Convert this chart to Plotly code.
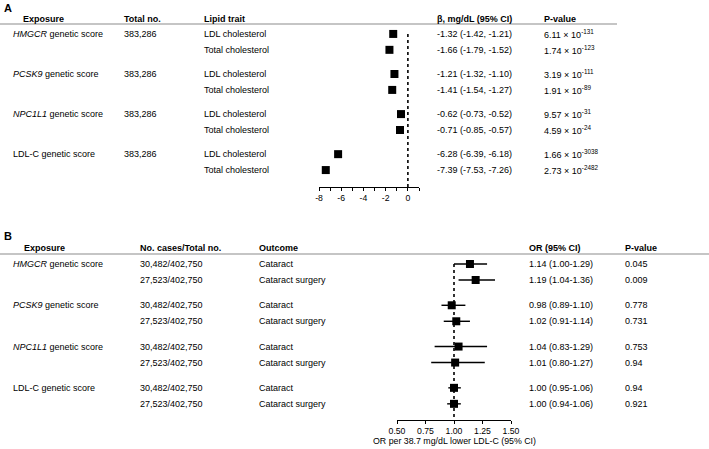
import plotly.graph_objects as go

W, H = 709, 449
FONT = "Liberation Sans, Arial, sans-serif"

# ---- panel A data ----
exposures = ["<i>HMGCR</i> genetic score", "<i>PCSK9</i> genetic score",
             "<i>NPC1L1</i> genetic score", "LDL-C genetic score"]
total_no = ["383,286", "383,286", "383,286", "383,286"]
lipid_traits = ["LDL cholesterol", "Total cholesterol"]
beta = [-1.32, -1.66, -1.21, -1.41, -0.62, -0.71, -6.28, -7.39]
beta_lo = [-1.42, -1.79, -1.32, -1.54, -0.73, -0.85, -6.39, -7.53]
beta_hi = [-1.21, -1.52, -1.10, -1.27, -0.52, -0.57, -6.18, -7.26]
p_a = ["6.11 × 10<sup>-131</sup>", "1.74 × 10<sup>-123</sup>",
       "3.19 × 10<sup>-111</sup>", "1.91 × 10<sup>-89</sup>",
       "9.57 × 10<sup>-31</sup>", "4.59 × 10<sup>-24</sup>",
       "1.66 × 10<sup>-3038</sup>", "2.73 × 10<sup>-2482</sup>"]
a_ticks = [-8, -6, -4, -2, 0]
a_ticktext = ["-8", "-6", "-4", "-2", "0"]

# ---- panel B data ----
cases = ["30,482/402,750", "27,523/402,750"]
outcomes = ["Cataract", "Cataract surgery"]
odds = [1.14, 1.19, 0.98, 1.02, 1.04, 1.01, 1.00, 1.00]
odds_lo = [1.00, 1.04, 0.89, 0.91, 0.83, 0.80, 0.95, 0.94]
odds_hi = [1.29, 1.36, 1.10, 1.14, 1.29, 1.27, 1.06, 1.06]
p_b = ["0.045", "0.009", "0.778", "0.731", "0.753", "0.94", "0.94", "0.921"]
b_ticks = [0.5, 0.75, 1.0, 1.25, 1.5]


def px_x(p):
    return p / W


def px_y(p):
    return 1 - p / H


def row_pos(gstep):
    return [g * gstep + i for g in range(4) for i in range(2)]


ya = row_pos(2.52)
yb = row_pos(2.58)

fig = go.Figure()

# panel A markers
fig.add_trace(go.Scatter(
    x=beta, y=ya, mode="markers", xaxis="x", yaxis="y",
    marker=dict(symbol="square", size=8, color="black"),
    error_x=dict(type="data", symmetric=False,
                 array=[h - b for h, b in zip(beta_hi, beta)],
                 arrayminus=[b - l for b, l in zip(beta, beta_lo)],
                 color="black", thickness=1.3, width=0),
    showlegend=False, hoverinfo="skip"))
fig.add_trace(go.Scatter(
    x=[0, 0], y=[ya[0], 9.625], mode="lines", xaxis="x", yaxis="y",
    line=dict(color="black", width=1.6, dash="dot"),
    showlegend=False, hoverinfo="skip"))

# panel B markers
fig.add_trace(go.Scatter(
    x=[1, 1], y=[yb[0], 9.75], mode="lines", xaxis="x2", yaxis="y2",
    line=dict(color="black", width=1.6, dash="dot"),
    showlegend=False, hoverinfo="skip"))
fig.add_trace(go.Scatter(
    x=odds, y=yb, mode="markers", xaxis="x2", yaxis="y2",
    marker=dict(symbol="square", size=8, color="black"),
    error_x=dict(type="data", symmetric=False,
                 array=[h - o for h, o in zip(odds_hi, odds)],
                 arrayminus=[o - l for o, l in zip(odds, odds_lo)],
                 color="black", thickness=1.4, width=0),
    showlegend=False, hoverinfo="skip"))

axis_common = dict(showline=True, linecolor="black", linewidth=1,
                   ticks="outside", ticklen=3, tickwidth=1, tickcolor="black",
                   showgrid=False, zeroline=False, automargin=False,
                   tickfont=dict(family=FONT, size=8.7, color="black"))

fig.update_layout(
    width=W, height=H,
    margin=dict(l=0, r=0, t=0, b=0, pad=0, autoexpand=False),
    paper_bgcolor="white", plot_bgcolor="white",
    xaxis=dict(domain=[px_x(319), px_x(419)], range=[-8, 1], anchor="y",
               tickvals=a_ticks, ticktext=a_ticktext,
               minor=dict(tickvals=[-7, -5, -3, -1, 1], ticks="outside",
                          ticklen=2.5, tickcolor="black"),
               **axis_common),
    yaxis=dict(domain=[px_y(187), px_y(24)], range=[9.625, -0.625],
               visible=False, fixedrange=True),
    xaxis2=dict(domain=[px_x(397), px_x(511)], range=[0.5, 1.5], anchor="y2",
                tickvals=b_ticks, tickformat=".2f",
                **axis_common),
    yaxis2=dict(domain=[px_y(420), px_y(254)], range=[9.75, -0.625],
                visible=False, fixedrange=True),
)

# header rules
fig.add_shape(type="line", xref="paper", yref="paper",
              x0=0, x1=px_x(617), y0=px_y(24), y1=px_y(24),
              line=dict(color="#8c8c8c", width=1.2))
fig.add_shape(type="line", xref="paper", yref="paper",
              x0=0, x1=1, y0=px_y(254), y1=px_y(254),
              line=dict(color="#8c8c8c", width=1.2))


def txt(x, y, s, yref="paper", bold=False, size=9, anchor="left"):
    if bold:
        s = "<b>" + s + "</b>"
    fig.add_annotation(x=x, y=y, xref="paper", yref=yref, text=s,
                       showarrow=False, xanchor=anchor, yanchor="middle",
                       borderpad=0,
                       font=dict(family=FONT, size=size, color="black"))


# panel labels
txt(px_x(3), px_y(8), "A", bold=True, size=11)
txt(px_x(3), px_y(236), "B", bold=True, size=11)

# panel A header
for xp, s in [(22, "Exposure"), (123, "Total no."), (203, "Lipid trait"),
              (436, "β, mg/dL (95% CI)"), (543, "P-value")]:
    txt(px_x(xp), px_y(19), s, bold=True)

# panel A rows
for g in range(4):
    txt(px_x(12), ya[2 * g], exposures[g], yref="y")
    txt(px_x(123), ya[2 * g], total_no[g], yref="y")
for k in range(8):
    txt(px_x(203), ya[k], lipid_traits[k % 2], yref="y")
    txt(px_x(436), ya[k], f"{beta[k]:.2f} ({beta_lo[k]:.2f}, {beta_hi[k]:.2f})", yref="y")
    txt(px_x(543), ya[k], p_a[k], yref="y")

# panel B header
for xp, s in [(23, "Exposure"), (139, "No. cases/Total no."), (258, "Outcome"),
              (528, "OR (95% CI)"), (624, "P-value")]:
    txt(px_x(xp), px_y(248), s, bold=True)

# panel B rows
for g in range(4):
    txt(px_x(12), yb[2 * g], exposures[g], yref="y2")
for k in range(8):
    txt(px_x(139), yb[k], cases[k % 2], yref="y2")
    txt(px_x(258), yb[k], outcomes[k % 2], yref="y2")
    txt(px_x(528), yb[k], f"{odds[k]:.2f} ({odds_lo[k]:.2f}-{odds_hi[k]:.2f})", yref="y2")
    txt(px_x(624), yb[k], p_b[k], yref="y2")

# panel B axis title
txt(px_x(454), px_y(441), "OR per 38.7 mg/dL lower LDL-C (95% CI)",
    size=8.8, anchor="center")

# page body margin would push the figure off the 709x449 window
fig.write_html("out.html", config={"displayModeBar": False},
               post_script="document.body.style.margin='0';")
